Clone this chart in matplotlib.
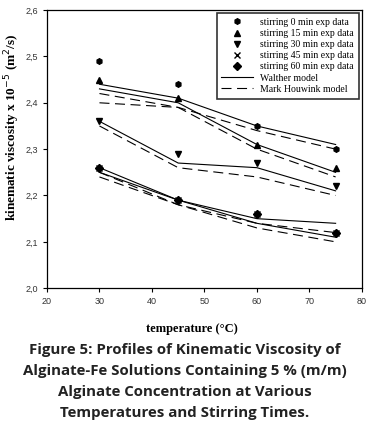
import numpy as np
import matplotlib.pyplot as plt

# temperatures (°C)
temp = [30, 45, 60, 75]

# experimental data per stirring time
exp_0 = [2.49, 2.44, 2.35, 2.30]
exp_15 = [2.45, 2.41, 2.31, 2.26]
exp_30 = [2.36, 2.29, 2.27, 2.22]
exp_45 = [2.26, 2.19, 2.16, 2.12]
exp_60 = [2.26, 2.19, 2.16, 2.12]

# Walther model curves
walther = [
    [2.44, 2.41, 2.35, 2.31],
    [2.43, 2.40, 2.31, 2.25],
    [2.36, 2.27, 2.26, 2.21],
    [2.26, 2.19, 2.15, 2.14],
    [2.25, 2.19, 2.14, 2.11],
]

# Mark Houwink model curves
mark_houwink = [
    [2.42, 2.39, 2.34, 2.30],
    [2.40, 2.39, 2.30, 2.24],
    [2.35, 2.26, 2.24, 2.20],
    [2.25, 2.18, 2.14, 2.12],
    [2.24, 2.18, 2.13, 2.10],
]

labels = ['stirring 0 min exp data', 'stirring 15 min exp data',
          'stirring 30 min exp data', 'stirring 45 min exp data',
          'stirring 60 min exp data']

fig = plt.figure(figsize=(3.7, 4.38), dpi=100)
ax = fig.add_axes([0.127, 0.342, 0.851, 0.635])

serif = 'Liberation Serif'

handles = []
for data, m, lab in zip([exp_0, exp_15, exp_30, exp_45, exp_60],
                        ['h', '^', 'v', 'x', 'D'], labels):
    h, = ax.plot(temp, data, linestyle='none', marker=m, color='black',
                 markersize=4, markeredgewidth=1.0, label=lab)
    handles.append(h)

for i, w in enumerate(walther):
    h, = ax.plot(temp, w, color='black', lw=0.8)
    if i == 0:
        h.set_label('Walther model')
        handles.append(h)
for i, mh in enumerate(mark_houwink):
    h, = ax.plot(temp, mh, color='black', lw=0.8, dashes=(9, 5))
    if i == 0:
        h.set_label('Mark Houwink model')
        handles.append(h)

ax.set_xlim(20, 80)
ax.set_ylim(2.0, 2.6)
ax.set_xticks(np.arange(20, 81, 10))
ax.set_yticks(np.arange(2.0, 2.61, 0.1))
ax.set_yticklabels([f'{v:.1f}'.replace('.', ',') for v in np.arange(2.0, 2.61, 0.1)])
ax.tick_params(direction='out', length=3, width=0.8, labelsize=6.5,
               labelcolor='#333333')
for lab in ax.get_xticklabels() + ax.get_yticklabels():
    lab.set_family('Liberation Sans')
for sp in ax.spines.values():
    sp.set_linewidth(0.9)

ax.set_xlabel('temperature (°C)', family=serif, fontweight='bold', fontsize=9)
ax.xaxis.set_label_coords(0.46, -0.125)
ax.set_ylabel('kinematic viscosity x 10$^{-5}$ (m$^2$/s)', family=serif,
              fontweight='bold', fontsize=9.5)
ax.yaxis.set_label_coords(-0.08, 0.58)

leg = ax.legend(handles=handles, loc='upper right', prop={'family': serif, 'size': 7},
                frameon=True, fancybox=False, edgecolor='black', handlelength=3.2,
                labelspacing=0.22, borderpad=0.5, handletextpad=0.8,
                borderaxespad=0.3)
leg.get_frame().set_linewidth(1.2)

caption = ('Figure 5: Profiles of Kinematic Viscosity of\n'
           'Alginate-Fe Solutions Containing 5 % (m/m)\n'
           'Alginate Concentration at Various\n'
           'Temperatures and Stirring Times.')
fig.text(0.5, 0.129, caption, ha='center', va='center', family='Open Sans',
         fontweight='bold', fontsize=10.8, linespacing=1.65, color='#222222')

fig.savefig('out.png', dpi=100)
